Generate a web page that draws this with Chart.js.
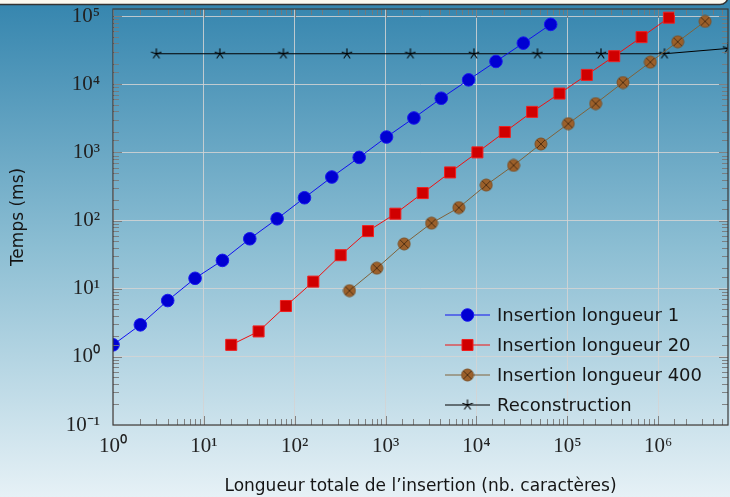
<!DOCTYPE html>
<html lang="fr">
<head>
<meta charset="UTF-8">
<title>Temps d'insertion</title>
<script src="https://cdn.jsdelivr.net/npm/chart.js@4.4.0/dist/chart.umd.min.js"></script>
<style>
    html, body { margin: 0; padding: 0; }
    #wrap { position: relative; width: 730px; height: 497px; }
</style>
</head>
<body>
<div id="wrap"><canvas id="chart"></canvas></div>
<script>
// --- data (log-log) ---
const seriesNames = ['Insertion longueur 1', 'Insertion longueur 20', 'Insertion longueur 400', 'Reconstruction'];

const xLen1 = [1, 2, 4, 8, 16, 32, 64, 128, 256, 512, 1024, 2048, 4096, 8192, 16384, 32768, 65536];
const yLen1 = [1.5, 2.95, 6.7, 14.2, 26, 54, 106, 216, 435, 844, 1680, 3200, 6230, 11600, 21600, 40100, 75500];

const xLen20 = [20, 40, 80, 160, 320, 640, 1280, 2560, 5120, 10240, 20480, 40960, 81920, 163840, 327680, 655360, 1310720];
const yLen20 = [1.5, 2.36, 5.57, 12.7, 31, 70, 126, 253, 508, 1000, 1990, 3930, 7300, 13700, 25800, 49100, 94700];

const xLen400 = [400, 800, 1600, 3200, 6400, 12800, 25600, 51200, 102400, 204800, 409600, 819200, 1638400, 3276800];
const yLen400 = [9.35, 20, 45.4, 91.6, 155, 332, 644, 1330, 2640, 5200, 10600, 21100, 42000, 83600];

const xRecon = [3, 15, 75, 375, 1875, 9375, 46875, 234375, 1171875, 5859375];
const yRecon = [28000, 28000, 28000, 28000, 28000, 28000, 28000, 28000, 28000, 33500];

const xRange = [1, 5859375];
const yRange = [0.1, 127000];
const xTickExps = [0, 1, 2, 3, 4, 5, 6];
const yTickExps = [-1, 0, 1, 2, 3, 4, 5];

const xTitle = "Longueur totale de l\u2019insertion (nb. caract\u00e8res)";
const yTitle = 'Temps (ms)';

// --- helpers ---
const SUP = { '0': '\u2070', '1': '\u00b9', '2': '\u00b2', '3': '\u00b3', '4': '\u2074', '5': '\u2075',
              '6': '\u2076', '7': '\u2077', '8': '\u2078', '9': '\u2079', '-': '\u207b' };
function expOf(v) {
    const l = Math.log10(v);
    return Math.abs(l - Math.round(l)) < 1e-6 ? Math.round(l) : null;
}
function powLabel(v, exps) {
    const e = expOf(v);
    if (e === null || exps.indexOf(e) < 0) return '';
    return '10' + String(e).split('').map(c => SUP[c]).join('');
}
function pts(xs, ys) { return xs.map((x, i) => ({ x: x, y: ys[i] })); }

function makeOtimes() {
    const c = document.createElement('canvas');
    c.width = 14; c.height = 14;
    const g = c.getContext('2d');
    g.beginPath();
    g.arc(7, 7, 6, 0, 2 * Math.PI);
    g.fillStyle = 'rgb(156,96,42)';
    g.fill();
    g.lineWidth = 1;
    g.strokeStyle = 'rgb(125,80,38)';
    g.stroke();
    const d = 4.1;
    g.beginPath();
    g.moveTo(7 - d, 7 - d); g.lineTo(7 + d, 7 + d);
    g.moveTo(7 + d, 7 - d); g.lineTo(7 - d, 7 + d);
    g.strokeStyle = 'rgb(80,48,20)';
    g.stroke();
    return c;
}
function makeStar() {
    const c = document.createElement('canvas');
    c.width = 12; c.height = 12;
    const g = c.getContext('2d');
    g.strokeStyle = '#000';
    g.lineWidth = 1.1;
    g.beginPath();
    for (let k = 0; k < 5; k++) {
        const a = -Math.PI / 2 + k * 2 * Math.PI / 5;
        g.moveTo(6, 6);
        g.lineTo(6 + 5.5 * Math.cos(a), 6 + 5.5 * Math.sin(a));
    }
    g.stroke();
    return c;
}
const otimes = makeOtimes();
const star = makeStar();

// background gradient + top frame
const backdrop = {
    id: 'backdrop',
    beforeDraw(chart) {
        const ctx = chart.ctx, w = chart.width, h = chart.height;
        ctx.save();
        const gr = ctx.createLinearGradient(0, 0, 0, h);
        gr.addColorStop(0, '#3585ae');
        gr.addColorStop(0.5, '#8cbed3');
        gr.addColorStop(1, '#e6f1f6');
        ctx.fillStyle = gr;
        ctx.fillRect(0, 0, w, h);
        ctx.beginPath();
        ctx.roundRect(-10, -20, 738, 24.5, 8);
        ctx.fillStyle = '#fbf8ef';
        ctx.fill();
        ctx.lineWidth = 1.5;
        ctx.strokeStyle = '#333';
        ctx.stroke();
        ctx.restore();
    }
};

// minor ticks on the four sides, frame, legend
const frame = {
    id: 'frame',
    afterDraw(chart) {
        const ctx = chart.ctx, a = chart.chartArea;
        const xs = chart.scales.x, ys = chart.scales.y;
        ctx.save();
        ctx.strokeStyle = 'rgba(120,120,120,0.9)';
        ctx.lineWidth = 1;
        ctx.beginPath();
        xs.ticks.forEach(t => {
            const px = Math.round(xs.getPixelForValue(t.value)) + 0.5;
            if (px < a.left + 1 || px > a.right - 1) return;
            const len = expOf(t.value) !== null ? 9 : 6;
            ctx.moveTo(px, a.bottom); ctx.lineTo(px, a.bottom - len);
            ctx.moveTo(px, a.top); ctx.lineTo(px, a.top + len);
        });
        ys.ticks.forEach(t => {
            const py = Math.round(ys.getPixelForValue(t.value)) + 0.5;
            if (py < a.top + 1 || py > a.bottom - 1) return;
            const len = expOf(t.value) !== null ? 9 : 6;
            ctx.moveTo(a.left, py); ctx.lineTo(a.left + len, py);
            ctx.moveTo(a.right, py); ctx.lineTo(a.right - len, py);
        });
        ctx.stroke();
        ctx.strokeStyle = '#3a3a3a';
        ctx.lineWidth = 1.2;
        ctx.strokeRect(a.left, a.top, a.right - a.left, a.bottom - a.top);

        // legend, inside the plot, bottom right
        const n = chart.data.datasets.length;
        const x0 = a.right - 283;
        ctx.font = '18px "DejaVu Sans"';
        ctx.textBaseline = 'middle';
        chart.data.datasets.forEach((ds, i) => {
            const y = a.bottom - 20 - (n - 1 - i) * 30;
            ctx.strokeStyle = ds.borderColor;
            ctx.lineWidth = 1;
            ctx.beginPath();
            ctx.moveTo(x0, y); ctx.lineTo(x0 + 45, y);
            ctx.stroke();
            ctx.fillStyle = ds.pointBackgroundColor;
            ctx.strokeStyle = ds.pointBorderColor;
            ctx.lineWidth = ds.pointBorderWidth;
            Chart.helpers.drawPoint(ctx, { pointStyle: ds.pointStyle, radius: ds.pointRadius,
                borderWidth: ds.pointBorderWidth, rotation: 0 }, x0 + 22.5, y);
            ctx.fillStyle = '#161616';
            ctx.fillText(ds.label, x0 + 52, y + 1);
        });
        ctx.restore();
    }
};

const tickFont = { family: '"Liberation Serif"', size: 21 };
const gridColor = ctx => expOf(ctx.tick.value) !== null ? 'rgba(212,212,212,0.85)' : 'rgba(0,0,0,0)';

new Chart(document.getElementById('chart'), {
    type: 'line',
    data: {
        datasets: [
            { label: seriesNames[0], data: pts(xLen1, yLen1), borderColor: '#1010f0', borderWidth: 1,
              pointStyle: 'circle', pointRadius: 6.3, pointBackgroundColor: '#0000d2', pointBorderColor: '#1a1af0', pointBorderWidth: 1 },
            { label: seriesNames[1], data: pts(xLen20, yLen20), borderColor: '#f01010', borderWidth: 1,
              pointStyle: 'rect', pointRadius: 7.8, pointBackgroundColor: '#d00000', pointBorderColor: '#f02020', pointBorderWidth: 1 },
            { label: seriesNames[2], data: pts(xLen400, yLen400), borderColor: 'rgb(128,98,58)', borderWidth: 1,
              pointStyle: otimes, pointRadius: 6, pointBackgroundColor: 'rgb(156,96,42)', pointBorderColor: 'rgb(125,80,38)', pointBorderWidth: 1 },
            { label: seriesNames[3], data: pts(xRecon, yRecon), borderColor: '#000', borderWidth: 1,
              pointStyle: star, pointRadius: 5, pointBackgroundColor: '#000', pointBorderColor: '#000', pointBorderWidth: 1 }
        ]
    },
    options: {
        responsive: true,
        maintainAspectRatio: false,
        animation: false,
        events: [],
        layout: { autoPadding: false, padding: { top: 9, right: 2, left: 0, bottom: 0 } },
        elements: { line: { tension: 0, fill: false } },
        plugins: { legend: { display: false }, tooltip: { enabled: false } },
        scales: {
            x: {
                type: 'logarithmic',
                min: xRange[0], max: xRange[1],
                grid: { color: gridColor, drawTicks: false, lineWidth: 1 },
                border: { display: false },
                ticks: { autoSkip: false, maxRotation: 0, font: tickFont, color: '#222', padding: 9,
                         callback: v => powLabel(v, xTickExps) },
                title: { display: true, text: xTitle, color: '#151515',
                         font: { family: '"DejaVu Sans"', size: 17 }, padding: { top: 0, bottom: 0 } },
                afterFit: s => { s.height = 72; s.paddingLeft = 0; s.paddingRight = 0; }
            },
            y: {
                type: 'logarithmic',
                min: yRange[0], max: yRange[1],
                grid: { color: gridColor, drawTicks: false, lineWidth: 1 },
                border: { display: false },
                ticks: { autoSkip: false, font: tickFont, color: '#222', padding: 13,
                         callback: v => powLabel(v, yTickExps) },
                title: { display: true, text: yTitle, color: '#151515',
                         font: { family: '"DejaVu Sans"', size: 17 }, padding: { top: 8, bottom: 0 } },
                afterFit: s => { s.width = 113; s.paddingTop = 0; s.paddingBottom = 0; }
            }
        }
    },
    plugins: [backdrop, frame]
});
</script>
</body>
</html>
